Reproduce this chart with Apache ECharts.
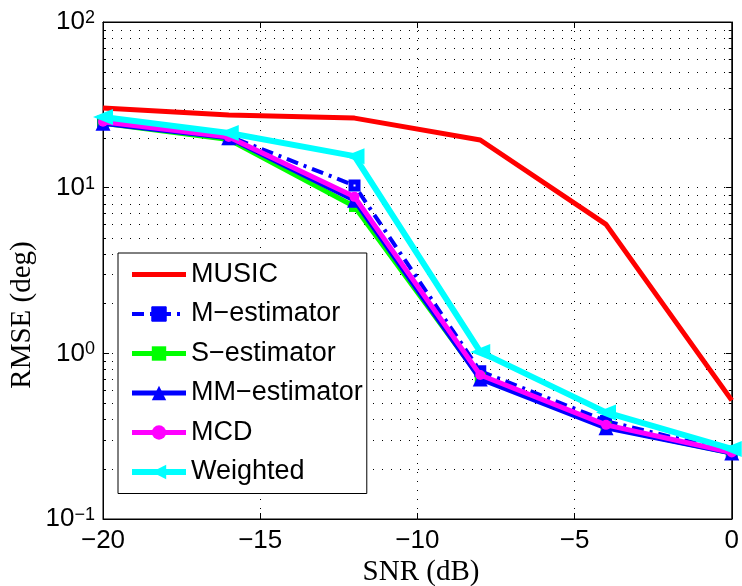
<!DOCTYPE html>
<html>
<head>
<meta charset="utf-8">
<script src="https://cdn.jsdelivr.net/npm/echarts@6/dist/echarts.min.js"></script>
<style>
html,body{margin:0;padding:0;background:#fff;}
#c{width:742px;height:586px;}
</style>
</head>
<body>
<div id="c"></div>
<script>
// ---- data ----
const snr = [-20, -16, -12, -8, -4, 0];
const music    = [30.3, 27.5, 26.3, 19.4, 6.0, 0.52];
const mEst     = [25.0, 20.5, 10.3, 0.78, 0.39, 0.255];
const sEst     = [24.5, 19.5, 7.7, 0.71, 0.36, 0.25];
const mmEst    = [24.5, 20.0, 8.4, 0.70, 0.355, 0.25];
const mcd      = [25.0, 20.2, 8.8, 0.74, 0.37, 0.252];
const weighted = [26.7, 21.4, 15.5, 1.02, 0.44, 0.265];
const xTicks = [-20, -15, -10, -5, 0];
const yTickExp = {0.1: '\u22121', 1: '0', 10: '1', 100: '2'};
const seriesNames = ['MUSIC', 'M\u2212estimator', 'S\u2212estimator', 'MM\u2212estimator', 'MCD', 'Weighted'];

// minor log grid values (2..9 per decade)
const minorVals = [];
[0.1, 1, 10].forEach(d => { for (let k = 2; k <= 9; k++) minorVals.push(+(k * d).toPrecision(3)); });

const pair = arr => snr.map((x, i) => [x, arr[i]]);

const sans = 'Liberation Sans, Arial, Helvetica, sans-serif';
const serifFont = '29px "Liberation Serif", "Times New Roman", serif';
const dotted = [1, 8];

const chart = echarts.init(document.getElementById('c'), null, {renderer: 'canvas'});

const legendData = seriesNames.map((n, i) => {
  if (i === 0) return {name: n, itemStyle: {opacity: 0}};
  if (i === 1) return {name: n, itemStyle: {color: '#0000ff', borderColor: '#0000ff', borderWidth: 1}};
  return {name: n};
});

const option = {
  backgroundColor: '#fff',
  animation: false,
  grid: {left: 103, right: 3, top: 22, bottom: 67, show: true, borderColor: '#000', borderWidth: 1, containLabel: false},
  xAxis: [{
    type: 'value', min: -20, max: 0, interval: 5,
    axisLine: {show: true, onZero: false, lineStyle: {color: '#000', width: 1}},
    axisTick: {show: true, inside: true, length: 6, lineStyle: {color: '#000'}},
    axisLabel: {
      margin: 9, color: '#000', fontSize: 26, fontFamily: sans,
      formatter: v => (v < 0 ? '\u2212' + Math.abs(v) : String(v))
    },
    splitLine: {show: true, lineStyle: {color: '#000', type: dotted, width: 1}}
  }, {
    type: 'value', min: -20, max: 0, interval: 5, position: 'top',
    axisLine: {show: true, onZero: false, lineStyle: {color: '#000'}},
    axisTick: {show: true, inside: true, length: 6, lineStyle: {color: '#000'}},
    axisLabel: {show: false}, splitLine: {show: false}
  }],
  yAxis: [{
    type: 'log', logBase: 10, min: 0.1, max: 100,
    axisLine: {show: true, onZero: false, lineStyle: {color: '#000', width: 1}},
    axisTick: {show: true, inside: true, length: 6, lineStyle: {color: '#000'}},
    minorTick: {show: false},
    axisLabel: {
      margin: 8, color: '#000', fontFamily: sans,
      formatter: v => {
        const key = Math.round(v * 1000) / 1000;
        return '{b|10}{s|' + (yTickExp[key] !== undefined ? yTickExp[key] : '') + '}';
      },
      rich: {
        b: {fontSize: 26, fontFamily: sans, color: '#000', lineHeight: 26, padding: [6, 0, 6, 0], verticalAlign: 'middle'},
        s: {fontSize: 18, fontFamily: sans, color: '#000', lineHeight: 18, verticalAlign: 'top'}
      }
    },
    splitLine: {show: true, lineStyle: {color: '#000', type: dotted, width: 1}}
  }, {
    type: 'log', logBase: 10, min: 0.1, max: 100, position: 'right',
    axisLine: {show: true, onZero: false, lineStyle: {color: '#000'}},
    axisTick: {show: true, inside: true, length: 6, lineStyle: {color: '#000'}},
    axisLabel: {show: false}, splitLine: {show: false}
  }],
  legend: {
    orient: 'vertical', left: 118, top: 253,
    backgroundColor: '#fff', borderColor: '#000', borderWidth: 1,
    padding: [8, 4, 8, 11], itemGap: 12.5, itemWidth: 54, itemHeight: 18,
    lineStyle: {width: 'inherit'},
    textStyle: {fontSize: 27, fontFamily: sans, color: '#000', lineHeight: 27},
    data: legendData
  },
  graphic: [
    {type: 'text', x: 421, y: 572, style: {text: 'SNR (dB)', font: serifFont, fill: '#000', textAlign: 'center', textVerticalAlign: 'middle'}},
    {type: 'text', x: 22, y: 315, rotation: Math.PI / 2, style: {text: 'RMSE (deg)', font: serifFont, fill: '#000', textAlign: 'center', textVerticalAlign: 'middle'}}
  ],
  series: [
    {
      type: 'custom', name: 'minorgrid', silent: true, z: 1,
      data: minorVals.map(v => [-20, v]),
      renderItem: (params, api) => {
        const cs = params.coordSys;
        const y = Math.round(api.coord([-20, api.value(1)])[1]) + 0.5;
        return {type: 'group', children: [
          {type: 'line', shape: {x1: cs.x, y1: y, x2: cs.x + cs.width, y2: y}, style: {stroke: '#000', lineWidth: 1, lineDash: dotted}},
          {type: 'line', shape: {x1: cs.x, y1: y, x2: cs.x + 3, y2: y}, style: {stroke: '#000', lineWidth: 1}},
          {type: 'line', shape: {x1: cs.x + cs.width - 3, y1: y, x2: cs.x + cs.width, y2: y}, style: {stroke: '#000', lineWidth: 1}}
        ]};
      }
    },
    {
      name: seriesNames[0], type: 'line', data: pair(music), clip: false, z: 3,
      symbol: 'none', lineStyle: {color: '#ff0000', width: 5}, itemStyle: {color: '#ff0000'}
    },
    {
      name: seriesNames[1], type: 'line', data: pair(mEst), clip: false, z: 4,
      symbol: 'rect', symbolSize: 7,
      lineStyle: {color: '#0000ff', width: 4, type: [12, 6, 3, 6]},
      itemStyle: {color: '#ffffff', borderColor: '#0000ff', borderWidth: 5}
    },
    {
      name: seriesNames[2], type: 'line', data: pair(sEst), clip: false, z: 5,
      symbol: 'rect', symbolSize: 11,
      lineStyle: {color: '#00ff00', width: 5}, itemStyle: {color: '#00ff00'}
    },
    {
      name: seriesNames[3], type: 'line', data: pair(mmEst), clip: false, z: 6,
      symbol: 'triangle', symbolSize: 15,
      lineStyle: {color: '#0000ff', width: 5}, itemStyle: {color: '#0000ff'}
    },
    {
      name: seriesNames[4], type: 'line', data: pair(mcd), clip: false, z: 7,
      symbol: 'circle', symbolSize: 10,
      lineStyle: {color: '#ff00ff', width: 5}, itemStyle: {color: '#ff00ff'}
    },
    {
      name: seriesNames[5], type: 'line', data: pair(weighted), clip: false, z: 8,
      symbol: 'triangle', symbolSize: [16, 20], symbolRotate: 90,
      lineStyle: {color: '#00ffff', width: 6}, itemStyle: {color: '#00ffff'}
    }
  ]
};
chart.setOption(option);
</script>
</body>
</html>
